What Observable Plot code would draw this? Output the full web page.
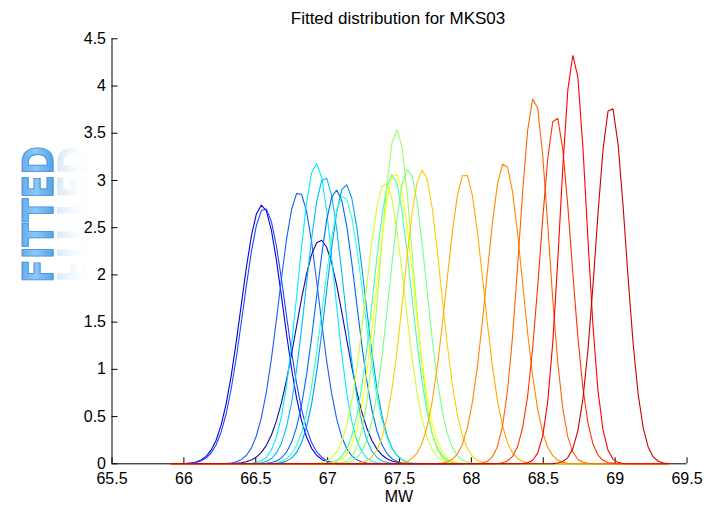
<!DOCTYPE html>
<html>
<head>
<meta charset="utf-8">
<script src="https://cdn.jsdelivr.net/npm/d3@7"></script>
<script src="https://cdn.jsdelivr.net/npm/@observablehq/plot@0.6"></script>
<style>
  html, body { margin: 0; padding: 0; background: #fff; }
  #chart { width: 713px; height: 506px; }
</style>
</head>
<body>
<div id="chart"></div>
<script>
// ---- data ----
const titleText = "Fitted distribution for MKS03";
const xLabel = "MW";
const xTicks = [65.5, 66, 66.5, 67, 67.5, 68, 68.5, 69, 69.5];
const yTicks = [0, 0.5, 1, 1.5, 2, 2.5, 3, 3.5, 4, 4.5];
// common sampling range of the fitted curves
const gridStart = 65.91;
const gridEnd = 69.37;
const gridCount = 100;
// fitted normal distributions: mean (MW) and peak density
const means = [66.543, 66.560, 66.800, 66.950, 66.920, 66.980, 67.060, 67.125, 67.110, 67.400, 67.450, 67.480, 67.470, 67.560, 67.660, 67.955, 68.230, 68.436, 68.587, 68.710, 68.970];
const peaks = [2.74, 2.71, 2.88, 2.37, 3.18, 3.04, 2.90, 2.96, 2.84, 2.98, 3.06, 3.54, 3.08, 3.12, 3.11, 3.08, 3.19, 3.88, 3.69, 4.33, 3.80];
const colors = ["#0000dd", "#2244ff", "#1a5cff", "#0c0ca8", "#00eeff", "#00bbff", "#0066ff", "#0099ff", "#33ffcc", "#ccff33", "#44ffaa", "#99ff66", "#ffff00", "#77ff88", "#ffcc00", "#ffaa00", "#ff8800", "#ff6600", "#ff3300", "#ff0000", "#cc0000"];

// ---- build the sampled curves ----
const grid = d3.range(gridCount).map(i => gridStart + (gridEnd - gridStart) * i / (gridCount - 1));
const curves = means.map((m, i) => {
  const p = peaks[i];
  const s = 1 / (p * Math.sqrt(2 * Math.PI));
  return grid.map(x => ({x, y: p * Math.exp(-((x - m) ** 2) / (2 * s * s))}));
});

const fmt = d => String(d);
const font = "'Liberation Sans', Arial, Helvetica, sans-serif";

const chart = Plot.plot({
  width: 713,
  height: 506,
  marginLeft: 111.5,
  marginRight: 26.5,
  marginTop: 38.3,
  marginBottom: 42.7,
  style: {fontFamily: font, fontSize: "16px", color: "#000", background: "#fff", overflow: "visible"},
  x: {domain: [65.5, 69.5]},
  y: {domain: [0, 4.5]},
  marks: [
    Plot.ruleX([65.5], {stroke: "#000", strokeWidth: 1}),
    Plot.ruleY([0], {stroke: "#000", strokeWidth: 1}),
    Plot.axisX({ticks: xTicks, tickFormat: fmt, tickSize: -6, tickPadding: 15, label: null, fontSize: 16}),
    Plot.axisY({ticks: yTicks, tickFormat: fmt, tickSize: -6, tickPadding: 12, label: null, fontSize: 16}),
    ...curves.map((c, i) => Plot.line(c, {x: "x", y: "y", stroke: colors[i], strokeWidth: 1.1, strokeLinejoin: "miter"}))
  ]
});

const svg = d3.select(chart);
const cx = (111.5 + 713 - 26.5) / 2;
svg.append("text")
  .attr("x", cx - 1).attr("y", 24)
  .attr("text-anchor", "middle")
  .attr("font-family", font).attr("font-size", 17)
  .attr("fill", "#000")
  .text(titleText);
svg.append("text")
  .attr("x", cx).attr("y", 501.5)
  .attr("text-anchor", "middle")
  .attr("font-family", font).attr("font-size", 16)
  .attr("fill", "#000")
  .text(xLabel);

// ---- "FITTED" watermark with reflection ----
const defs = svg.append("defs");
const g1 = defs.append("linearGradient").attr("id", "wmFill").attr("x1", 0).attr("y1", 0).attr("x2", 0).attr("y2", 1);
g1.append("stop").attr("offset", "0").attr("stop-color", "#4a9fe6");
g1.append("stop").attr("offset", "0.45").attr("stop-color", "#8cc8f8");
g1.append("stop").attr("offset", "1").attr("stop-color", "#3a8ed8");
const g2 = defs.append("linearGradient").attr("id", "wmRefl").attr("x1", 0).attr("y1", 0).attr("x2", 0).attr("y2", 1);
g2.append("stop").attr("offset", "0").attr("stop-color", "#c4dcf2").attr("stop-opacity", 0);
g2.append("stop").attr("offset", "0.4").attr("stop-color", "#c4dcf2").attr("stop-opacity", 0.1);
g2.append("stop").attr("offset", "1").attr("stop-color", "#a8cdef").attr("stop-opacity", 0.7);

const wmText = "FITTED";
svg.append("text")
  .attr("transform", "translate(53,283) rotate(-90)")
  .attr("text-anchor", "start")
  .attr("font-family", "'DejaVu Sans', sans-serif")
  .attr("font-weight", "bold")
  .attr("font-size", 43)
  .attr("textLength", 137)
  .attr("lengthAdjust", "spacingAndGlyphs")
  .attr("fill", "url(#wmFill)")
  .attr("stroke", "#3d8fdc")
  .attr("stroke-width", 1)
  .text(wmText);
svg.append("text")
  .attr("transform", "translate(57,283) rotate(-90) scale(1,-1)")
  .attr("text-anchor", "start")
  .attr("font-family", "'DejaVu Sans', sans-serif")
  .attr("font-weight", "bold")
  .attr("font-size", 43)
  .attr("textLength", 137)
  .attr("lengthAdjust", "spacingAndGlyphs")
  .attr("fill", "url(#wmRefl)")
  .text(wmText);

document.getElementById("chart").appendChild(chart);
</script>
</body>
</html>
